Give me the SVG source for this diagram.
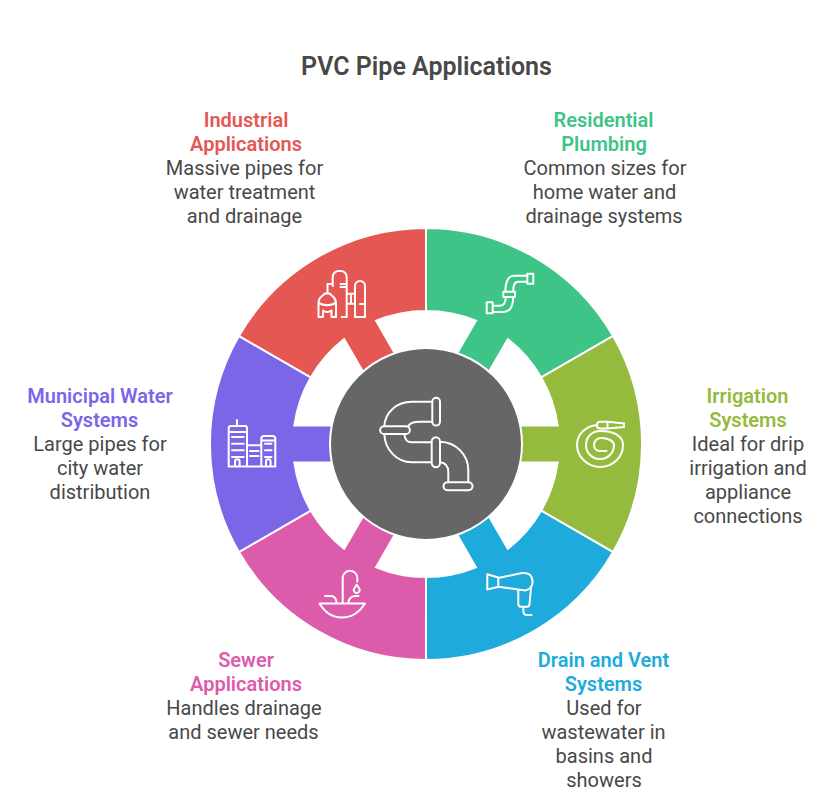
<svg xmlns="http://www.w3.org/2000/svg" width="840" height="796" viewBox="0 0 840 796">
<style>
text{font-family:Roboto,"Liberation Sans",sans-serif;text-anchor:middle;font-size:20px;fill:#484848}
.title{font-size:25px;font-weight:600}
.h{font-weight:600}
.seg{stroke:#fff;stroke-width:2;stroke-linejoin:miter}
.ic{fill:none;stroke:#fff;stroke-width:2;stroke-linecap:round;stroke-linejoin:round}
</style>
<defs>
<path id="sector" d="M-108 -187.1A216 216 0 0 1 108 -187.1L66.5 -115.2A133 133 0 0 0 18.4 -131.7V-85H-18.4V-131.7A133 133 0 0 0 -66.5 -115.2Z"/>
</defs>
<rect width="840" height="796" fill="#fff"/>
<text class="title" x="426.5" y="75">PVC Pipe Applications</text>
<g id="connectors"></g>
<g id="residential">
<use href="#sector" class="seg" fill="#3EC487" transform="translate(426 444) rotate(30)"/>
<path class="ic" d="M527.3 273.7h6v10h-6zM486.7 302.3h6v11h-6zM503.3 291.7H515V297H503.3zM527.3 275.7H514Q505.5 275.7 505.3 291.7M527.3 281.7H518Q513 281.7 513.3 291.7M513.3 297Q513 312 503 312H492.7M505.7 297Q505.7 305.7 500 305.7H492.7"/>
<text class="h" x="603.5" y="127" style="fill:#3EC487">Residential</text>
<text class="h" x="604" y="151" style="fill:#3EC487">Plumbing</text>
<text x="605" y="175">Common sizes for</text>
<text x="604.5" y="199">home water and</text>
<text x="604" y="223">drainage systems</text>
</g>
<g id="irrigation">
<use href="#sector" class="seg" fill="#94BB3D" transform="translate(426 444) rotate(90)"/>
<path class="ic" d="M597 425C586 426 577 434 577 445C577 457 588 467 600 467C613 467 623 457 623 445C623 436 614 431 600 431C592 431 586 437 586 445C586 453 592 459 600 459C608 459 614 453 614 445C614 441 608 438 601 438C597 438 594 441 594 445C594 449 597 451 600 451H606.5M597 424.5Q597 421.7 600 421.7H607.5L624 423.5V427L607.5 428.5H600Q597 428.5 597 425.5ZM607.5 421.7V428.5"/>
<text class="h" x="747.5" y="403" style="fill:#94BB3D">Irrigation</text>
<text class="h" x="748" y="427" style="fill:#94BB3D">Systems</text>
<text x="748" y="451">Ideal for drip</text>
<text x="748" y="475">irrigation and</text>
<text x="748" y="499">appliance</text>
<text x="748" y="523">connections</text>
</g>
<g id="drain">
<use href="#sector" class="seg" fill="#1EAADB" transform="translate(426 444) rotate(150)"/>
<path class="ic" d="M487.3 574.3L498.3 577.5V586.7L487.3 589.5ZM498.3 578L522 573Q533 572 532.5 583Q532 589 525 590.5L498.3 586.7M518.3 590V604Q518.3 606.7 521 606.7H527Q529.5 606.7 529.5 604L531 588M523.3 606.7V611Q523.3 615 527 615H531.5"/>
<text class="h" x="603.5" y="667" style="fill:#1EAADB">Drain and Vent</text>
<text class="h" x="603.5" y="691" style="fill:#1EAADB">Systems</text>
<text x="604" y="715">Used for</text>
<text x="603.5" y="739">wastewater in</text>
<text x="604" y="763">basins and</text>
<text x="604" y="787">showers</text>
</g>
<g id="sewer">
<use href="#sector" class="seg" fill="#DD5BAB" transform="translate(426 444) rotate(210)"/>
<path class="ic" d="M319.5 603.5H365Q356 617.5 342 617.5Q328 617.5 319.5 603.5ZM342.7 603V578A7.3 7.3 0 0 1 357.3 578V581.5M356.7 584.5L354.2 588.5A2.9 2.9 0 1 0 359.2 588.5ZM325 596H331Q336 596 336.7 603M348.3 603Q349 596.5 355 596H358.5"/>
<text class="h" x="246" y="667" style="fill:#DD5BAB">Sewer</text>
<text class="h" x="246" y="691" style="fill:#DD5BAB">Applications</text>
<text x="244" y="715">Handles drainage</text>
<text x="243.5" y="739">and sewer needs</text>
</g>
<g id="municipal">
<use href="#sector" class="seg" fill="#7B66E7" transform="translate(426 444) rotate(270)"/>
<path class="ic" d="M237 420V426M228.7 466.5V428Q228.7 426 231 426H245Q247 426 247 428V466.5M228.7 432H247M232 437H243.7M232 443.7H243.7M232 450.3H243.7M232 457H243.7M228.5 466.5H275.5M247 445.3H261.3M261.3 466.5V438.5Q261.3 436 264 436H272.5Q275.3 436 275.3 438.5V466.5M261.3 440.5H275.3M265 443.7H271.5M265 450.3H271.5M265 457H271.5M250 451H258.5M250 456H258.5M235 466.5V461.5A2.3 2.3 0 0 1 239.6 461.5V466.5M266 466.5V461.5A2.3 2.3 0 0 1 270.6 461.5V466.5"/>
<text class="h" x="100" y="403" style="fill:#7B66E7">Municipal Water</text>
<text class="h" x="99.5" y="427" style="fill:#7B66E7">Systems</text>
<text x="100" y="451">Large pipes for</text>
<text x="100" y="475">city water</text>
<text x="100" y="499">distribution</text>
</g>
<g id="industrial">
<use href="#sector" class="seg" fill="#E55753" transform="translate(426 444) rotate(330)"/>
<path class="ic" d="M332.7 286V277A6 6 0 0 1 338.7 271H340.7A6 6 0 0 1 346.7 277V317H341.7M332.7 284H327.5V293.5M340.5 284H346.7M340.5 287H346.7M318.5 317V304Q318.5 299 321 297L325 293.5H329.5L333.5 297Q336 299.5 336 304V317H331.5V310.5M318.5 317H323V310.5M318.5 303Q327 307.5 336 303M323 310.5Q327 313.5 331.5 310.5M355 317V286A5 5 0 0 1 365 286V317H355M346.7 293.7H355M346.7 303.7H355M360 304H365M351 293.7V303.7"/>
<text class="h" x="246" y="127" style="fill:#E55753">Industrial</text>
<text class="h" x="246" y="151" style="fill:#E55753">Applications</text>
<text x="244.5" y="175">Massive pipes for</text>
<text x="244.5" y="199">water treatment</text>
<text x="244.5" y="223">and drainage</text>
</g>
<g id="center">
<circle cx="426" cy="444" r="96" fill="#666666" stroke="#fff" stroke-width="2"/>
<path class="ic" d="M432.3 401.7A3.8 3.8 0 0 1 440 401.7V421.7A3.8 3.8 0 0 1 432.3 421.7ZM384 426.3H406A3.8 3.8 0 0 1 406 434H384A3.8 3.8 0 0 1 384 426.3ZM432 401.7H411.7C397 401.7 385 412 384.3 426.3M432 421.7H420Q410 421.7 408.3 426.3M384.3 434C385 450 397 462.3 411.7 462.3H431.7M404.3 434Q405 442.3 411.7 442.3H431.7M431.7 441.5A4.1 4.1 0 0 1 440 441.5V463A4.1 4.1 0 0 1 431.7 463ZM440 441.7C456 442 468.3 455 468.3 470V482.3M440 462.3Q448.3 463 448.3 472.3V482.3M447.5 482.3H468.5A4 4 0 0 1 468.5 490.3H447.5A4 4 0 0 1 447.5 482.3Z"/>
</g>
</svg>
